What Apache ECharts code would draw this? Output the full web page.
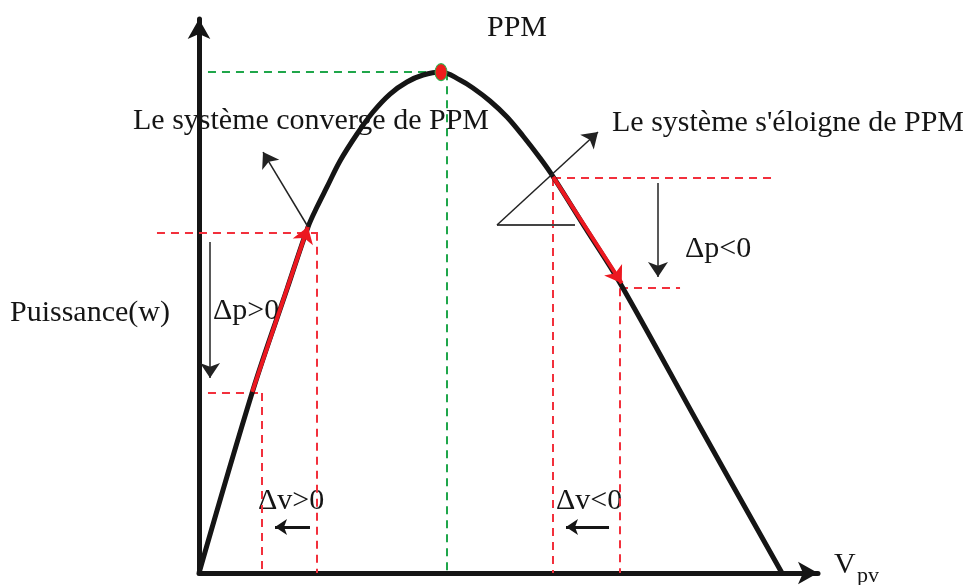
<!DOCTYPE html>
<html>
<head>
<meta charset="utf-8">
<script src="https://cdn.jsdelivr.net/npm/echarts@6/dist/echarts.min.js"></script>
<style>
  html, body { margin: 0; padding: 0; background: #fff; }
  #chart { width: 963px; height: 585px; }
</style>
</head>
<body>
<div id="chart"></div>
<script>
// courbe P(V) du panneau (unites normalisees)
const voltage = [0, 8.72, 14.22, 17.61, 19.06, 20.68, 22.78, 25.53, 28.11, 30.86, 33.60, 36.19, 39.10, 42.16, 44.26, 47.01, 49.76, 52.34, 55.09, 57.03, 62.52, 68.01, 80.94, 94.18];
const power = [0, 33.03, 51.26, 62.45, 66.06, 69.68, 74.37, 79.24, 83.21, 86.46, 88.63, 89.89, 90.43, 88.99, 87.55, 85.20, 82.31, 78.88, 74.91, 71.84, 62.09, 52.35, 26.35, 0];

const ppm = [39.1, 90.4];
const stepLeft = [[8.6, 32.7], [17.6, 62.5]];
const stepRight = [[57.2, 71.5], [68.3, 52.3]];

const redGuides = [
  [[-6.79, 61.4], [19.22, 61.4]],
  [[19.06, 61.4], [19.06, 0]],
  [[1.45, 32.5], [10.18, 32.5]],
  [[10.18, 32.5], [10.18, 0]],
  [[57.19, 71.3], [92.73, 71.3]],
  [[57.19, 71.3], [57.19, 0]],
  [[68.01, 51.4], [77.71, 51.4]],
  [[68.01, 51.4], [68.01, 0]]
];
const greenGuides = [
  [[1.45, 90.4], [39.1, 90.4]],
  [[40.06, 90.4], [40.06, 0]]
];
const noteArrows = [
  [[17.6, 62.5], [10.34, 75.99]],
  [[48.14, 62.82], [64.46, 79.6]],
  [[1.78, 59.75], [1.78, 35.2]],
  [[74.15, 70.4], [74.15, 53.43]]
];
const tangentBase = [[[48.14, 62.82], [60.74, 62.82]]];
const dvArrows = [
  [[17.93, 8.3], [12.28, 8.3]],
  [[66.24, 8.3], [59.29, 8.3]]
];

const serif = '"Liberation Serif", "Times New Roman", serif';
const ink = '#151515';

function toLines(list, style) {
  return list.map(c => ({ coords: c, lineStyle: style }));
}

function label(text, x, y, size) {
  return {
    type: 'text',
    x: x,
    y: y,
    style: {
      text: text,
      font: (size || 30) + 'px ' + serif,
      fill: ink,
      align: 'left',
      verticalAlign: 'middle',
      textAlign: 'left',
      textVerticalAlign: 'middle'
    }
  };
}

const chart = echarts.init(document.getElementById('chart'));

const axisCommon = {
  type: 'value',
  min: 0,
  max: 100,
  axisLine: {
    show: true,
    symbol: ['none', 'arrow'],
    symbolSize: [17, 20],
    lineStyle: { color: ink, width: 5 }
  },
  axisTick: { show: false },
  axisLabel: { show: false },
  splitLine: { show: false }
};

chart.setOption({
  animation: false,
  backgroundColor: '#fff',
  grid: { left: 199, top: 19, width: 619, height: 554 },
  xAxis: axisCommon,
  yAxis: axisCommon,
  series: [
    {
      type: 'lines',
      coordinateSystem: 'cartesian2d',
      clip: false,
      silent: true,
      z: 1,
      symbol: 'none',
      data: toLines(redGuides, { color: '#f2303c', width: 2, type: [8, 6], opacity: 1 })
        .concat(toLines(greenGuides, { color: '#1fa64a', width: 2, type: [8, 6], opacity: 1 }))
    },
    {
      type: 'lines',
      coordinateSystem: 'cartesian2d',
      clip: false,
      silent: true,
      z: 2,
      symbol: 'none',
      data: toLines(tangentBase, { color: '#444', width: 2, opacity: 1 })
    },
    {
      type: 'line',
      data: voltage.map((v, i) => [v, power[i]]),
      smooth: 0.35,
      showSymbol: false,
      clip: false,
      z: 3,
      lineStyle: { color: ink, width: 5 }
    },
    {
      type: 'lines',
      coordinateSystem: 'cartesian2d',
      clip: false,
      silent: true,
      z: 4,
      symbol: ['none', 'arrow'],
      symbolSize: [12, 16],
      data: toLines([stepLeft, stepRight], { color: '#ec1820', width: 4, opacity: 1 })
    },
    {
      type: 'lines',
      coordinateSystem: 'cartesian2d',
      clip: false,
      silent: true,
      z: 4,
      symbol: ['none', 'arrow'],
      symbolSize: [11, 15],
      data: toLines(noteArrows, { color: '#222', width: 1.5, opacity: 1 })
    },
    {
      type: 'lines',
      coordinateSystem: 'cartesian2d',
      clip: false,
      silent: true,
      z: 4,
      symbol: ['none', 'arrow'],
      symbolSize: [13, 12],
      data: toLines(dvArrows, { color: ink, width: 3, opacity: 1 })
    },
    {
      type: 'scatter',
      data: [ppm],
      symbol: 'circle',
      symbolSize: [12, 17],
      z: 5,
      itemStyle: { color: '#ee1c1c', opacity: 1, borderColor: '#2bb24c', borderWidth: 1 }
    }
  ],
  graphic: [
    label('PPM', 487, 28),
    label('Le système converge de PPM', 133, 121),
    label("Le système s'éloigne de PPM", 612, 123),
    label('Puissance(w)', 10, 313),
    label('\u0394p>0', 213, 311),
    label('\u0394p<0', 685, 249),
    label('\u0394v>0', 258, 501),
    label('\u0394v<0', 556, 501),
    label('V', 834, 565),
    label('pv', 857, 576, 22)
  ]
});
</script>
</body>
</html>
